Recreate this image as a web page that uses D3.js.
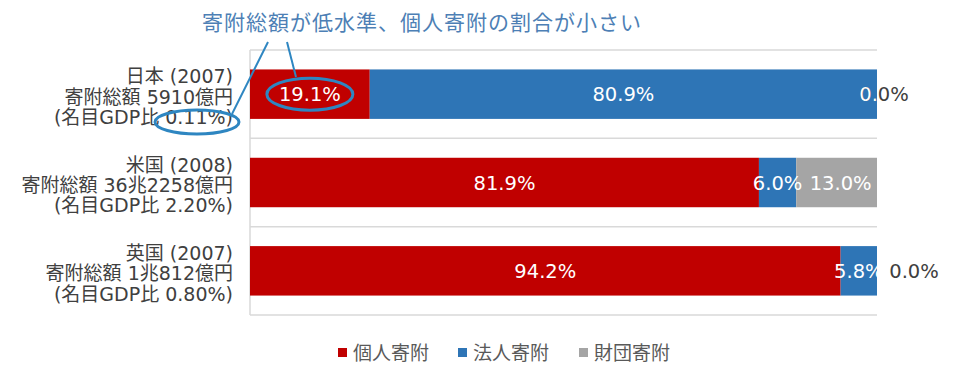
<!DOCTYPE html>
<meta charset="utf-8">
<style>
  body { margin: 0; background: #fff; }
  svg text { font-family: "DejaVu Sans", "Noto Sans CJK JP", sans-serif; }
  .grid { stroke: #d9d9d9; stroke-width: 1.5px; }
  .cat { fill: #404040; font-size: 19px; }
  .seglabel { font-size: 19.5px; }
  .legend text { fill: #595959; font-size: 19px; }
</style>
<body>
<script src="https://d3js.org/d3.v7.min.js"></script>
<script>
  // data
  var countries = ["日本 (2007)", "米国 (2008)", "英国 (2007)"];
  var totals = ["寄附総額 5910億円", "寄附総額 36兆2258億円", "寄附総額 1兆812億円"];
  var gdpRatio = ["(名目GDP比 0.11%)", "(名目GDP比 2.20%)", "(名目GDP比 0.80%)"];
  var seriesNames = ["個人寄附", "法人寄附", "財団寄附"];
  var individual = [19.1, 81.9, 94.2];
  var corporate = [80.9, 6.0, 5.8];
  var foundation = [0.0, 13.0, 0.0];
  var colors = ["#c00000", "#2e75b6", "#a5a5a5"];
  var note = "寄附総額が低水準、個人寄附の割合が小さい";

  var width = 960, height = 380;
  var svg = d3.select("body").append("svg")
    .attr("width", width)
    .attr("height", height);

  // build table for the stack layout
  var rows = countries.map(function(c, i) {
    return { country: c, i: i, "個人寄附": individual[i], "法人寄附": corporate[i], "財団寄附": foundation[i] };
  });
  var stacked = d3.stack().keys(seriesNames).offset(d3.stackOffsetExpand)(rows);

  var x = d3.scaleLinear().domain([0, 1]).range([250, 877]);
  var y = d3.scaleBand().domain(countries).range([50, 315]).paddingInner(0.44).paddingOuter(0.22);

  // band separators + left axis line
  var bounds = d3.range(4).map(function(i) { return 50 + i * (315 - 50) / 3; });
  svg.selectAll(".grid")
    .data(bounds)
    .enter().append("line")
    .attr("class", "grid")
    .attr("x1", x(0)).attr("x2", x(1))
    .attr("y1", function(d) { return d; })
    .attr("y2", function(d) { return d; });
  svg.append("line")
    .attr("class", "grid")
    .attr("x1", x(0)).attr("x2", x(0))
    .attr("y1", 50).attr("y2", 315);

  // bars
  var layer = svg.selectAll(".layer")
    .data(stacked)
    .enter().append("g")
    .attr("fill", function(d, i) { return colors[i]; });
  layer.selectAll("rect")
    .data(function(d) { return d; })
    .enter().append("rect")
    .attr("x", function(d) { return x(d[0]); })
    .attr("width", function(d) { return x(d[1]) - x(d[0]); })
    .attr("y", function(d) { return y(d.data.country); })
    .attr("height", y.bandwidth());

  // clip for the white part of labels that spill off the bars
  svg.append("clipPath").attr("id", "plotClip")
    .append("rect")
    .attr("x", x(0)).attr("y", 0)
    .attr("width", x(1) - x(0)).attr("height", height);

  var labels = [];
  stacked.forEach(function(s, si) {
    s.forEach(function(d) {
      var v = d.data[s.key];
      var cx = (x(d[0]) + x(d[1])) / 2;
      if (v === 0) {
        // zero segments sit at the bar end, nudged right
        cx += d.data.i === 0 ? 7 : 37;
      } else if (si === 2) {
        cx += 4;
      }
      labels.push({ x: cx, y: y(d.data.country) + y.bandwidth() / 2, text: v.toFixed(1) + "%", zero: v === 0 });
    });
  });

  svg.selectAll(".lab-dark")
    .data(labels.filter(function(d) { return d.zero; }))
    .enter().append("text")
    .attr("class", "seglabel")
    .attr("x", function(d) { return d.x; })
    .attr("y", function(d) { return d.y; })
    .attr("dy", "0.36em")
    .attr("text-anchor", "middle")
    .attr("fill", "#404040")
    .text(function(d) { return d.text; });

  svg.append("g").attr("clip-path", "url(#plotClip)")
    .selectAll("text")
    .data(labels)
    .enter().append("text")
    .attr("class", "seglabel")
    .attr("x", function(d) { return d.x; })
    .attr("y", function(d) { return d.y; })
    .attr("dy", "0.36em")
    .attr("text-anchor", "middle")
    .attr("fill", "#ffffff")
    .text(function(d) { return d.text; });

  // category labels, three lines each
  var cat = svg.selectAll(".cat")
    .data(countries)
    .enter().append("text")
    .attr("class", "cat")
    .attr("text-anchor", "end")
    .attr("y", function(d) { return y(d) + y.bandwidth() / 2 + 3; });
  cat.append("tspan").attr("x", 233).attr("dy", "-0.72em").text(function(d) { return d; });
  cat.append("tspan").attr("x", 233).attr("dy", "1.07em").text(function(d, i) { return totals[i]; });
  cat.append("tspan").attr("x", 233).attr("dy", "1.07em").text(function(d, i) { return gdpRatio[i]; });

  // legend
  var legendX = [338, 458, 579];
  var lg = svg.append("g").attr("class", "legend")
    .selectAll("g")
    .data(seriesNames)
    .enter().append("g")
    .attr("transform", function(d, i) { return "translate(" + legendX[i] + ",353)"; });
  lg.append("rect")
    .attr("x", 0).attr("y", -5)
    .attr("width", 9).attr("height", 9)
    .attr("fill", function(d, i) { return colors[i]; });
  lg.append("text")
    .attr("x", 15)
    .attr("dy", "0.35em")
    .text(function(d) { return d; });

  // annotation
  var annColor = "#2e86c1";
  svg.append("text")
    .attr("x", 202).attr("y", 22)
    .attr("dy", "0.36em")
    .attr("fill", "#4d7fb5")
    .style("font-family", "'Noto Sans CJK JP', sans-serif")
    .style("font-size", "21px")
    .style("letter-spacing", "1px")
    .text(note);
  svg.append("line")
    .attr("x1", 268).attr("y1", 42).attr("x2", 232).attr("y2", 114)
    .attr("stroke", annColor).attr("stroke-width", 2);
  svg.append("line")
    .attr("x1", 287).attr("y1", 42).attr("x2", 296).attr("y2", 77)
    .attr("stroke", annColor).attr("stroke-width", 2);
  svg.append("ellipse")
    .attr("cx", x(0) + (x(individual[0] / 100) - x(0)) / 2).attr("cy", y(countries[0]) + y.bandwidth() / 2)
    .attr("rx", 43).attr("ry", 16)
    .attr("fill", "none").attr("stroke", annColor).attr("stroke-width", 3);
  svg.append("ellipse")
    .attr("cx", 197).attr("cy", 122)
    .attr("rx", 42).attr("ry", 12)
    .attr("fill", "none").attr("stroke", annColor).attr("stroke-width", 3);
</script>
</body>
